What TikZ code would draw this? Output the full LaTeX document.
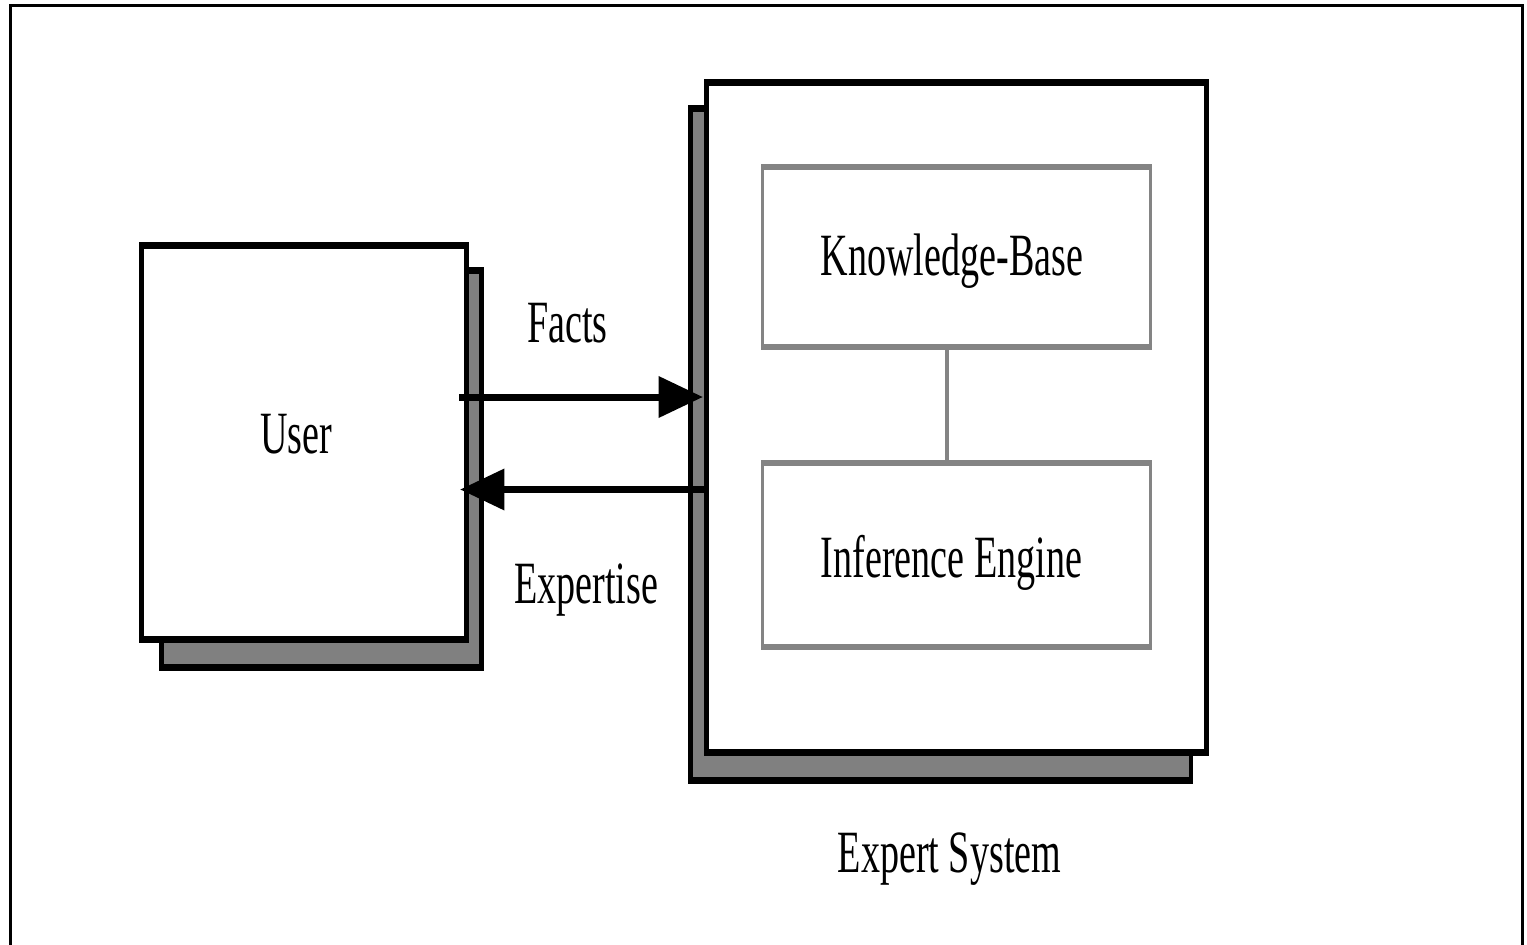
\documentclass[tikz,border=0pt]{standalone}
\usepackage{fontspec}
\setmainfont{Liberation Serif}
\usetikzlibrary{arrows.meta,calc,fit}

\definecolor{shade}{RGB}{128,128,128}
\definecolor{partline}{RGB}{132,132,132}

\begin{document}
\begin{tikzpicture}[x=1pt,y=-1pt,
  frame/.style={line width=3.5pt},
  shadowbox/.style={draw=black,fill=shade,line width=7pt,inner sep=0pt,outer sep=0pt},
  mainbox/.style={draw=black,fill=white,line width=7pt,inner sep=0pt,outer sep=0pt},
  partbox/.style={draw=partline,fill=white,line width=6pt,inner sep=0pt,outer sep=0pt},
  link/.style={draw=partline,line width=6pt},
  flow/.style={line width=7pt,-{Triangle[length=70pt,width=40pt]}},
  txt/.style={font=\fontsize{60}{72}\selectfont,inner sep=0pt,anchor=base}]

\useasboundingbox (0,0) rectangle (1527,945);
\clip (0,0) rectangle (1527,945);

% page frame, open at the bottom
\draw[frame] (10.5,1000) -- (10.5,5.5) -- (1522.5,5.5) -- (1522.5,1000);

% everything else is set in a horizontally condensed canvas
\begin{scope}[overlay,x=1.574803pt,y=-1pt,transform canvas={xscale=0.635}]

  % user block
  \node[shadowbox,fit={(161.5,270.5) (481.5,667)}] (usershadow) {};
  \node[mainbox,fit={(141.5,245.5) (466.5,639.5)}] (user) {};
  \node[txt] (usertext) at (296,453) {User};

  % expert system block
  \node[shadowbox,fit={(690.5,108) (1191,780)}] (expertshadow) {};
  \node[mainbox,fit={(706.5,82.5) (1206.5,752.5)}] (expert) {};

  \node[partbox,fit={(762.5,166.5) (1150.5,346.5)}] (kb) {};
  \node[txt] (kbtext) at (952,275) {Knowledge-Base};

  \node[partbox,fit={(762.5,463) (1150.5,646.5)}] (ie) {};
  \node[txt] (ietext) at (951.5,577) {Inference Engine};

  \draw[link] (kb.south -| 947,0) -- (ie.north -| 947,0);

  \node[txt] (expertlabel) at (949.5,872) {Expert System};

  % exchanges between user and system
  \draw[flow] ($(user.east |- 0,397)+(-7.5,0)$) -- ($(expert.west |- 0,397)+(-3.5,0)$);
  \node[txt] (factslabel) at (567.5,342) {Facts};

  \draw[flow] ($(expert.west |- 0,489.5)+(-1.5,0)$) -- ($(user.east |- 0,489.5)+(-6.5,0)$);
  \node[txt] (expertiselabel) at (586,603) {Expertise};

\end{scope}
\end{tikzpicture}
\end{document}
